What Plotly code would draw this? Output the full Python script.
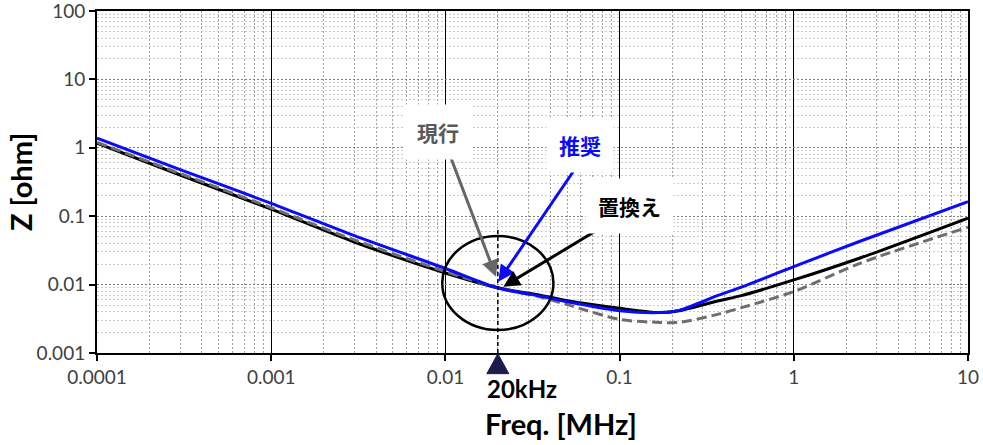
import math
import plotly.graph_objects as go

# ---- data ----
freq_mhz = [0.0001, 0.0003, 0.001, 0.003, 0.01, 0.02, 0.035, 0.05, 0.1, 0.17, 0.22, 0.37, 0.5, 1, 2.4, 10]
z_recommended = [1.38, 0.48, 0.154, 0.052, 0.0172, 0.0089, 0.0068, 0.0056, 0.00415, 0.0039, 0.0042, 0.0070, 0.0092, 0.0183, 0.043, 0.163]
z_replacement = [1.17, 0.40, 0.127, 0.042, 0.0148, 0.0090, 0.0070, 0.0058, 0.0045, 0.0039, 0.00415, 0.0058, 0.0069, 0.0117, 0.0245, 0.094]
z_current = [1.20, 0.42, 0.133, 0.045, 0.0155, 0.0090, 0.0066, 0.0051, 0.0031, 0.0028, 0.0028, 0.0037, 0.0046, 0.0079, 0.0205, 0.069]

x_tickvals = [0.0001, 0.001, 0.01, 0.1, 1, 10]
x_ticktext = ["0.0001", "0.001", "0.01", "0.1", "1", "10"]
y_tickvals = [0.001, 0.01, 0.1, 1, 10, 100]
y_ticktext = ["0.001", "0.01", "0.1", "1", "10", "100"]

marker_freq = 0.02
marker_label = "20kHz"
label_current = "現行"
label_recommended = "推奨"
label_replacement = "置換え"

X_LOG_RANGE = [-4, 1]
Y_LOG_RANGE = [-3, 2]

FONT = "Lato, 'Noto Sans', sans-serif"
JFONT = "'Noto Sans CJK JP', 'Noto Sans', sans-serif"

W, H = 983, 445
PL, PT, PW, PH = 97, 11, 871, 342   # plot area in pixels


def px_x(lv):
    return (lv - X_LOG_RANGE[0]) / (X_LOG_RANGE[1] - X_LOG_RANGE[0])


def px_y(lv):
    return (lv - Y_LOG_RANGE[0]) / (Y_LOG_RANGE[1] - Y_LOG_RANGE[0])


def paper_x(xpx):
    return (xpx - PL) / PW


def paper_y(ypx):
    return (PT + PH - ypx) / PH


fig = go.Figure()

fig.add_trace(go.Scatter(x=freq_mhz, y=z_replacement, mode="lines",
                         line=dict(color="#000000", width=3, shape="spline", smoothing=0.8),
                         showlegend=False, hoverinfo="skip"))
fig.add_trace(go.Scatter(x=freq_mhz, y=z_current, mode="lines",
                         line=dict(color="#6e6e6e", width=3, dash="10px,5px", shape="spline", smoothing=0.8),
                         showlegend=False, hoverinfo="skip"))
fig.add_trace(go.Scatter(x=freq_mhz, y=z_recommended, mode="lines",
                         line=dict(color="#0a0aff", width=3, shape="spline", smoothing=0.8),
                         showlegend=False, hoverinfo="skip"))

lx = math.log10
mx = px_x(lx(marker_freq))

# triangle marker below axis at 20 kHz (paper coords)
tw = 11 / PW
th = 20 / PH
fig.add_shape(type="path", xref="paper", yref="paper",
              path="M %f %f L %f %f L %f %f Z" % (mx - tw, -th - 0.002, mx + tw, -th - 0.002, mx, -0.002),
              fillcolor="#1c1c4c", line=dict(color="#1c1c4c", width=1), layer="above")

# vertical dashed line at 20 kHz
fig.add_shape(type="line", xref="paper", yref="paper",
              x0=mx, x1=mx, y0=0, y1=px_y(lx(0.068)),
              line=dict(color="#000000", width=1.5, dash="4px,3px"))
# circle
fig.add_shape(type="circle", xref="paper", yref="paper",
              x0=px_x(-2.018), x1=px_x(-1.380), y0=px_y(-2.664), y1=px_y(-1.289),
              line=dict(color="#000000", width=2.5))


# arrows (tail -> head), given in pixel positions of the plot area
def arrow(tx, ty, hx, hy, color):
    fig.add_annotation(x=-4 + (hx - PL) / (PW / 5), y=2 - (hy - PT) / (PH / 5),
                       ax=-4 + (tx - PL) / (PW / 5), ay=2 - (ty - PT) / (PH / 5),
                       xref="x", yref="y", axref="x", ayref="y",
                       text="", showarrow=True, arrowhead=2, arrowsize=1.1,
                       arrowwidth=3, arrowcolor=color, standoff=0)


arrow(446.7, 146.7, 496, 276.7, "#666666")
arrow(577.7, 165, 498.3, 281.7, "#0a0aff")
arrow(608.3, 223.3, 503.3, 286.7, "#000000")


def text_at(text, xpx, ypx, font, angle=0, **kw):
    fig.add_annotation(x=paper_x(xpx), y=paper_y(ypx), xref="paper", yref="paper",
                       xanchor="center", yanchor="middle", textangle=angle,
                       text=text, showarrow=False, font=font, **kw)


# text boxes
text_at("<b>%s</b>" % label_current, 438, 132, dict(family=JFONT, size=21, color="#595959"),
        bgcolor="#ffffff", borderpad=12)
text_at("<b>%s</b>" % label_recommended, 580, 145, dict(family=JFONT, size=21, color="#0a0aff"),
        bgcolor="#ffffff", borderpad=12)
text_at("<b>%s</b>" % label_replacement, 629, 206, dict(family=JFONT, size=21, color="#000000"),
        bgcolor="#ffffff", borderpad=12)

# 20kHz label
text_at("<b>%s</b>" % marker_label, 522, 389, dict(family=FONT, size=24, color="#000000"))
# axis titles
text_at("<b>Freq. [MHz]</b>", 561, 424, dict(family=FONT, size=29, color="#000000"))
text_at("<b>Z [ohm]</b>", 20, 182, dict(family=FONT, size=29, color="#000000"), angle=-90)

fig.update_xaxes(type="log", range=X_LOG_RANGE, tickvals=x_tickvals, ticktext=x_ticktext,
                 showgrid=True, gridcolor="#000000", gridwidth=1, automargin=False,
                 ticklabeloverflow="allow",
                 minor=dict(dtick="D1", showgrid=True, gridcolor="#a0a0a0", gridwidth=1,
                            griddash="2px,2px", ticks=""),
                 ticks="outside", ticklen=6, tickcolor="#000000", tickwidth=1.5,
                 showline=True, linecolor="#000000", linewidth=2, mirror=True,
                 tickfont=dict(family=FONT, size=19, color="#404040"), zeroline=False)
fig.update_yaxes(type="log", range=Y_LOG_RANGE, tickvals=y_tickvals, ticktext=y_ticktext,
                 showgrid=True, gridcolor="#808080", gridwidth=1, griddash="2px,2px",
                 automargin=False, ticklabeloverflow="allow",
                 minor=dict(dtick="D1", showgrid=True, gridcolor="#cccccc", gridwidth=1, ticks=""),
                 ticks="outside", ticklen=6, tickcolor="#000000", tickwidth=1.5,
                 showline=True, linecolor="#000000", linewidth=2, mirror=True,
                 tickfont=dict(family=FONT, size=19, color="#404040"), zeroline=False)

fig.update_layout(width=W, height=H,
                  margin=dict(l=PL, r=W - PL - PW, t=PT, b=H - PT - PH, autoexpand=False),
                  plot_bgcolor="#ffffff", paper_bgcolor="#ffffff", showlegend=False)

fig.write_html("out.html", config={"displayModeBar": False},
               post_script="document.body.style.margin='0';document.body.style.overflow='hidden';")
